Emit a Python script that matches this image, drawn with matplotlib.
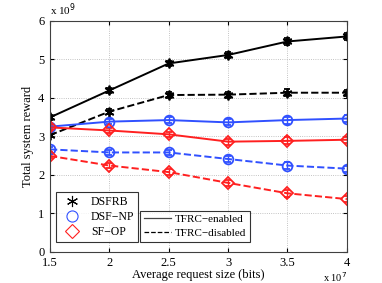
import matplotlib
matplotlib.use("Agg")

import matplotlib.pyplot as plt
from matplotlib.lines import Line2D

# x in units of 1e7 bits, y in units of 1e9
request_size = [1.5, 2.0, 2.5, 3.0, 3.5, 4.0]

dsfrb_enabled = [3.49, 4.19, 4.89, 5.11, 5.46, 5.59]
dsfrb_disabled = [3.03, 3.64, 4.07, 4.08, 4.13, 4.13]
dsfnp_enabled = [3.25, 3.38, 3.42, 3.36, 3.42, 3.46]
dsfnp_disabled = [2.66, 2.58, 2.58, 2.41, 2.24, 2.16]
sfop_enabled = [3.23, 3.15, 3.05, 2.86, 2.88, 2.91]
sfop_disabled = [2.49, 2.24, 2.07, 1.79, 1.52, 1.37]

error = [0.06, 0.07, 0.07, 0.08, 0.09, 0.08]

BLUE = "#3050ff"
RED = "#ff2020"
ASTERISK = (6, 2, 0)

plt.rcParams["font.family"] = ["Liberation Serif", "DejaVu Serif"]
plt.rcParams["font.size"] = 9

fig = plt.figure(figsize=(3.82, 2.83), dpi=100)
ax = fig.add_axes([0.131, 0.110, 0.777, 0.817])

series = [
    (dsfrb_enabled, "k", ASTERISK, "-"),
    (dsfrb_disabled, "k", ASTERISK, "--"),
    (dsfnp_enabled, BLUE, "o", "-"),
    (dsfnp_disabled, BLUE, "o", "--"),
    (sfop_enabled, RED, "D", "-"),
    (sfop_disabled, RED, "D", "--"),
]

for values, color, marker, style in series:
    ax.errorbar(
        request_size,
        values,
        yerr=error,
        color=color,
        linestyle=style,
        linewidth=1.4,
        marker=marker,
        markersize=7 if marker != "D" else 6,
        markerfacecolor="none" if marker != ASTERISK else color,
        markeredgewidth=1.3,
        capsize=2,
        elinewidth=1.0,
    )

ax.set_xlim(1.5, 4)
ax.set_ylim(0, 6)
ax.set_xticks(request_size)
ax.set_xticklabels(["1.5", "2", "2.5", "3", "3.5", "4"])
ax.set_yticks(range(7))
ax.tick_params(direction="in", length=3, labelsize=9, top=True, right=True)
ax.tick_params(axis="y", pad=4)
ax.tick_params(axis="x", pad=4)
ax.grid(True, linestyle=":", linewidth=0.6, color="#b0b0b0")
for spine in ax.spines.values():
    spine.set_color("#404040")
    spine.set_linewidth(0.8)

ax.set_xlabel("Average request size (bits)", fontsize=9, labelpad=0)
ax.set_ylabel("Total system reward", fontsize=9, labelpad=3)

fig.text(0.131, 0.935, r"x 10$^9$", fontsize=8, ha="left", va="bottom")
fig.text(0.908, -0.005, r"x 10$^7$", fontsize=7.5, ha="right", va="bottom")

marker_handles = [
    Line2D([], [], color="k", marker=ASTERISK, linestyle="none", markersize=8, markeredgewidth=0.8),
    Line2D([], [], color=BLUE, marker="o", markerfacecolor="none", linestyle="none", markersize=8, markeredgewidth=0.8),
    Line2D([], [], color=RED, marker="D", markerfacecolor="none", linestyle="none", markersize=7, markeredgewidth=0.8),
]
leg1 = ax.legend(
    marker_handles,
    ["DSFRB", "DSF\u2212NP", "SF\u2212OP"],
    loc="lower left",
    bbox_to_anchor=(0.02, 0.043),
    borderaxespad=0,
    fontsize=8.5,
    frameon=True,
    fancybox=False,
    edgecolor="k",
    borderpad=0.35,
    labelspacing=0.25,
    handletextpad=0.6,
)
leg1.get_frame().set_linewidth(0.8)
ax.add_artist(leg1)

line_handles = [
    Line2D([], [], color="#444444", linestyle="-", linewidth=0.9),
    Line2D([], [], color="k", linestyle="--", linewidth=0.9),
]
leg2 = ax.legend(
    line_handles,
    ["TFRC\u2212enabled", "TFRC\u2212disabled"],
    loc="lower left",
    bbox_to_anchor=(0.303, 0.043),
    borderaxespad=0,
    fontsize=8,
    frameon=True,
    fancybox=False,
    edgecolor="k",
    borderpad=0.35,
    labelspacing=0.35,
    handlelength=2.4,
    handletextpad=0.4,
)
leg2.get_frame().set_linewidth(0.8)

fig.savefig("out.png", dpi=100)
